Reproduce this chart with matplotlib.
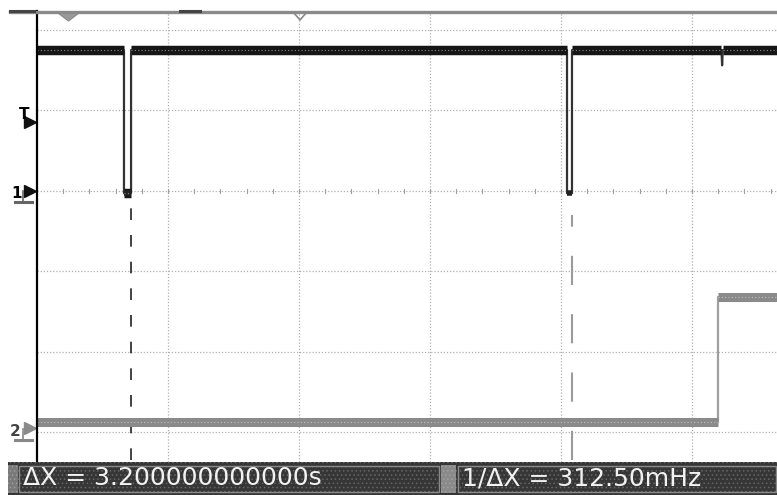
import numpy as np
import matplotlib.pyplot as plt
from matplotlib.patches import Rectangle, Polygon
from matplotlib.lines import Line2D

# scope screen, units = divisions
ch1_t = [0.0, 0.664, 0.664, 0.718, 0.718, 4.046, 4.046, 4.084, 4.084, 5.225, 5.23, 5.235, 5.65]
ch1_v = [4.75, 4.75, 2.97, 2.97, 4.75, 4.75, 2.97, 2.97, 4.75, 4.75, 4.56, 4.75, 4.75]
ch2_t = [0.0, 5.20, 5.20, 5.65]
ch2_v = [0.12, 0.12, 1.68, 1.68]
cursor_t = [0.718, 4.084]
cursor_top = [2.95, 2.70]
trig_level = 3.86
ch1_gnd = 3.0
ch2_gnd = 0.05
readouts = ["\u0394X = 3.200000000000s", "1/\u0394X = 312.50mHz"]

W, H = 777, 495
fig = plt.figure(figsize=(W / 100, H / 100), dpi=100)
fig.patch.set_facecolor("white")

def fx(px):
    return px / W

def fy(py):
    return 1 - py / H

ax = fig.add_axes([fx(37), fy(462), (W - 37) / W, 451 / H])
ax.set_xlim(0, 5.649)
ax.set_ylim(-0.373, 5.236)
ax.axis("off")

grid_kw = dict(color="#b0b0b0", lw=0.9, ls=(0, (1, 1.5)), zorder=1)
for gx in range(1, 6):
    ax.axvline(gx, **grid_kw)
for gy in range(0, 6):
    ax.axhline(gy, **grid_kw)
# minor ticks on the centre line
for mx in np.arange(0.2, 5.65, 0.2):
    ax.plot([mx, mx], [ch1_gnd - 0.025, ch1_gnd + 0.025], color="#a0a0a0", lw=0.8, zorder=1)

# left edge
ax.plot([0, 0], [-0.373, 5.236], color="black", lw=1.6, clip_on=False, zorder=5)

# cursors
ax.plot([cursor_t[0]] * 2, [-0.35, cursor_top[0]], color="#222222", lw=1.2, ls=(0, (7, 9)), zorder=2)
ax.plot([cursor_t[1]] * 2, [-0.35, cursor_top[1]], color="#9a9a9a", lw=1.5, ls=(0, (14, 14)), zorder=2)

def draw_trace(t, v, thin_c, thick_c, thick_lw, tex_c, z):
    ax.plot(t, v, color=thin_c, lw=1.6, zorder=z)
    for i in range(len(t) - 1):
        if v[i] == v[i + 1] and t[i + 1] - t[i] > 0.05:
            ax.plot([t[i], t[i + 1]], [v[i], v[i + 1]], color=thick_c, lw=thick_lw,
                    solid_capstyle="butt", zorder=z)
            ax.plot([t[i], t[i + 1]], [v[i], v[i + 1]], color=tex_c, lw=0.8,
                    ls=(0, (1, 2)), zorder=z + 0.1)

draw_trace(ch1_t, ch1_v, "#333333", "#161616", 6.8, "#888888", 4)
# dip bottoms
for a, b in [(0.664, 0.718), (4.046, 4.084)]:
    ax.plot([a, b], [2.97, 2.97], color="#222222", lw=4, solid_capstyle="butt", zorder=4)
draw_trace(ch2_t, ch2_v, "#a0a0a0", "#8a8a8a", 6.5, "#bdbdbd", 3)

# left markers
ax.plot(-0.055, trig_level, marker=">", ms=9, color="#111111", clip_on=False)
fig.text(fx(19), fy(119), "T", fontsize=11, fontweight="bold", ha="left", va="baseline")
ax.plot(-0.055, ch1_gnd, marker=">", ms=9, color="#111111", clip_on=False)
fig.text(fx(11), fy(198), "1", fontsize=11, fontweight="bold", ha="left", va="baseline")
ax.plot(-0.055, ch2_gnd, marker=">", ms=9, color="#8a8a8a", clip_on=False)
fig.text(fx(10), fy(436), "2", fontsize=11, fontweight="bold", color="#444444", ha="left", va="baseline")
for py, c in [(197, "#666666"), (435, "#888888")]:
    fig.add_artist(Line2D([fx(23), fx(23)], [fy(py - 6), fy(py + 4)], color=c, lw=1.2))
    fig.add_artist(Line2D([fx(15), fx(32)], [fy(py + 5), fy(py + 5)], color=c, lw=2.2))

# top bar
fig.add_artist(Line2D([fx(10), fx(W)], [fy(11.5), fy(11.5)], color="#8a8a8a", lw=2.4))
for a, b in [(10, 34), (180, 200)]:
    fig.add_artist(Line2D([fx(a), fx(b)], [fy(11), fy(11)], color="#444444", lw=2.2))
fig.add_artist(Polygon([[fx(58), fy(13)], [fx(79), fy(13)], [fx(68.5), fy(21)]], closed=True,
                       facecolor="#9a9a9a", edgecolor="#888888", lw=0.8))
fig.add_artist(Line2D([fx(294), fx(300), fx(306)], [fy(13), fy(20), fy(13)], color="#888888", lw=1.2))

# status bar
plt.rcParams["hatch.linewidth"] = 0.6
fig.add_artist(Rectangle((fx(8), 0), fx(W - 8), fy(462), transform=fig.transFigure,
                         facecolor="#363636", edgecolor="#666666", hatch="....", lw=0))
fig.add_artist(Rectangle((fx(8), fy(493)), fx(10), fy(465) - fy(493), transform=fig.transFigure,
                         facecolor="#7a7a7a", edgecolor="#9a9a9a", hatch="....", lw=0))
fig.add_artist(Rectangle((fx(19), fy(492)), fx(420), fy(466) - fy(492), transform=fig.transFigure,
                         facecolor="none", edgecolor="#8a8a8a", lw=1.0))
fig.add_artist(Rectangle((fx(441), fy(493)), fx(15), fy(465) - fy(493), transform=fig.transFigure,
                         facecolor="#8a8a8a", edgecolor="#a0a0a0", hatch="....", lw=0))
fig.add_artist(Rectangle((fx(458), fy(492)), fx(W - 459), fy(466) - fy(492), transform=fig.transFigure,
                         facecolor="none", edgecolor="#8a8a8a", lw=1.0))
fig.text(fx(23), fy(478), readouts[0], fontsize=18, color="#f2f2f2", ha="left", va="center")
fig.text(fx(462), fy(478), readouts[1], fontsize=18, color="#f2f2f2", ha="left", va="center")

fig.savefig("out.png", dpi=100)
